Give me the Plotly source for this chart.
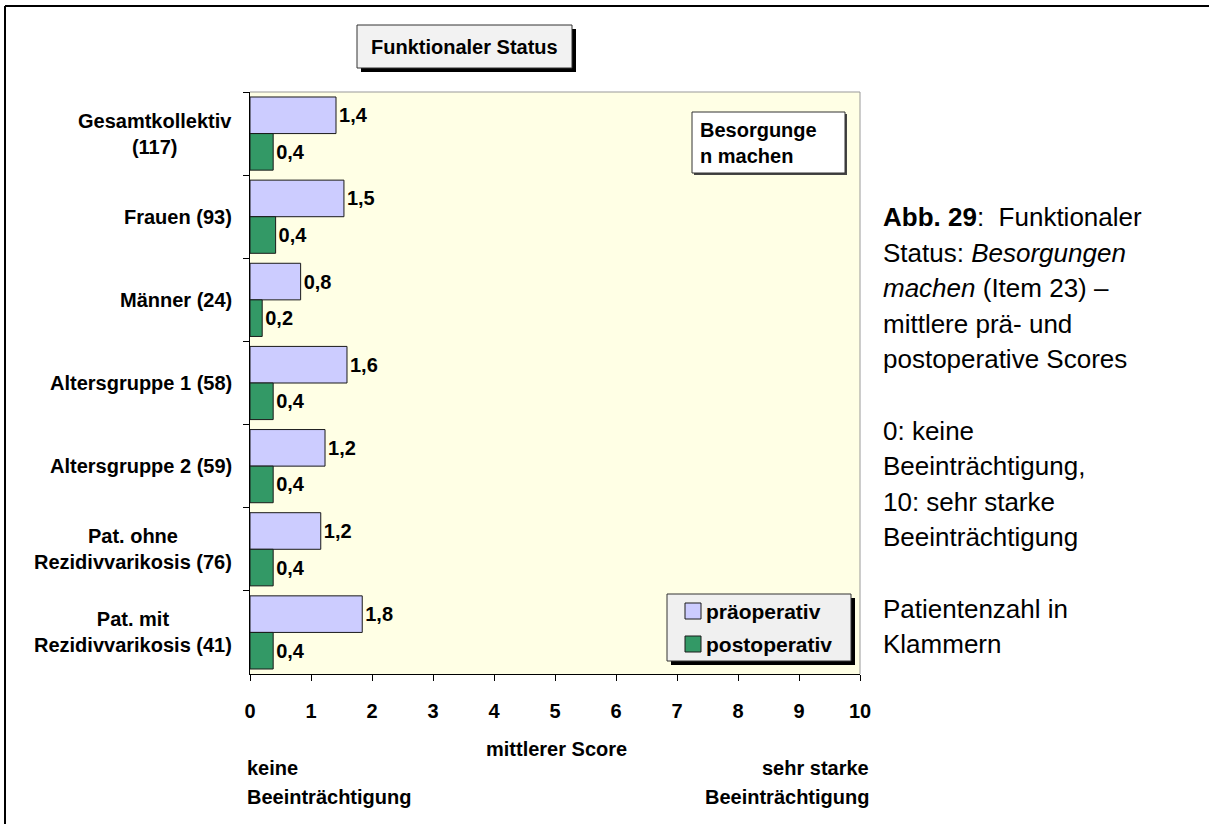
import plotly.graph_objects as go

# ---------------- data ----------------
categories = [
    "Gesamtkollektiv<br>(117)",
    "Frauen (93)",
    "Männer (24)",
    "Altersgruppe 1 (58)",
    "Altersgruppe 2 (59)",
    "Pat. ohne<br>Rezidivvarikosis (76)",
    "Pat. mit<br>Rezidivvarikosis (41)",
]
pre_values = [1.41, 1.54, 0.83, 1.59, 1.23, 1.16, 1.84]
post_values = [0.38, 0.42, 0.20, 0.38, 0.38, 0.38, 0.38]
series_names = ["präoperativ", "postoperativ"]
x_tick_values = list(range(0, 11))
x_tick_labels = [str(v) for v in x_tick_values]

# ---------------- styling ----------------
FONT = "Liberation Sans, Arial, sans-serif"
PRE_COLOR = "#ccccff"
POST_COLOR = "#339966"
PLOT_BG = "#ffffe5"

W, H = 1209, 824
L, R, T, B = 250, 860, 92, 674  # plot area in page pixels


def X(px):
    return (px - L) / (R - L)


def Y(py):
    return (B - py) / (B - T)


def fmt(v):
    return f"{v:.1f}".replace(".", ",")


fig = go.Figure()
for name, vals, col in [(series_names[0], pre_values, PRE_COLOR),
                        (series_names[1], post_values, POST_COLOR)]:
    fig.add_trace(go.Bar(
        y=categories, x=vals, name=name, orientation="h",
        marker=dict(color=col, line=dict(color="#1a1a1a", width=1)),
        text=[fmt(v) for v in vals], textposition="outside",
        textfont=dict(family=FONT, size=20, color="black", weight="bold"),
        constraintext="none", cliponaxis=False, showlegend=False,
    ))

fig.update_layout(
    width=W, height=H,
    margin=dict(l=L, r=W - R, t=T, b=H - B, pad=0),
    paper_bgcolor="white", plot_bgcolor=PLOT_BG,
    barmode="group", bargap=0.12, bargroupgap=0,
    font=dict(family=FONT, color="black"),
    xaxis=dict(range=[0, 10], tickvals=x_tick_values, ticktext=x_tick_labels,
               showgrid=False, zeroline=False, showline=True, linecolor="black",
               linewidth=1, ticks="outside", ticklen=6, tickcolor="black",
               ticklabelstandoff=13,
               tickfont=dict(family=FONT, size=20, color="black", weight="bold")),
    yaxis=dict(type="category", autorange="reversed", showgrid=False,
               zeroline=False, showline=True, linecolor="black", linewidth=1,
               ticks="outside", ticklen=6, tickcolor="black",
               tickson="boundaries", showticklabels=False),
)

shapes = []
ann = []


def rect(x0, y0, x1, y1, fill, line=None):
    shapes.append(dict(type="rect", xref="paper", yref="paper",
                       x0=X(x0), x1=X(x1), y0=Y(y1), y1=Y(y0), fillcolor=fill,
                       line=line if line else dict(width=0), layer="above"))


def text(x, y, t, size=20, bold=True, xanchor="left", align="left"):
    ann.append(dict(xref="paper", yref="paper", x=X(x), y=Y(y), text=t,
                    showarrow=False, xanchor=xanchor, yanchor="middle", align=align,
                    font=dict(family=FONT, size=size, color="black",
                              weight="bold" if bold else "normal")))


# outer frame lines
shapes.append(dict(type="line", xref="paper", yref="paper", x0=X(5), x1=X(1215), y0=Y(6), y1=Y(6),
                   line=dict(color="black", width=2)))
shapes.append(dict(type="line", xref="paper", yref="paper", x0=X(5), x1=X(5), y0=Y(6), y1=Y(830),
                   line=dict(color="black", width=2)))
# plot-area top/right border
shapes.append(dict(type="line", xref="paper", yref="paper", x0=0, x1=1, y0=1, y1=1,
                   line=dict(color="#999999", width=1)))
shapes.append(dict(type="line", xref="paper", yref="paper", x0=1, x1=1, y0=0, y1=1,
                   line=dict(color="#999999", width=1)))

# title box with shadow
rect(361, 29, 576, 72, "black")
rect(357, 25, 572, 68, "#f2f2f2", dict(color="#333333", width=1))
text(464.5, 46.5, "Funktionaler Status", xanchor="center", align="center")

# item box
rect(694, 114, 847, 175, "#444444")
rect(692, 112, 845, 173, "white", dict(color="#333333", width=1))
text(698, 142.5, "Besorgunge<br>n machen")

# legend box (manual)
rect(671, 598, 855, 665, "black")
rect(667, 594, 851, 661, "#f0f0f0", dict(color="#333333", width=1))
for i, (name, col) in enumerate([(series_names[0], PRE_COLOR), (series_names[1], POST_COLOR)]):
    cy = 611 + 33 * i
    rect(685, cy - 8, 701, cy + 8, col, dict(color="#1a1a1a", width=1))
    text(704, cy, name, size=21)

# category labels
for c in categories:
    ann.append(dict(xref="paper", yref="y", x=X(234), y=c, text=c, showarrow=False,
                    xanchor="right", yanchor="middle", align="center",
                    font=dict(family=FONT, size=20, color="black", weight="bold")))

# axis captions
text(556, 749, "mittlerer Score", xanchor="center", align="center")
text(245, 768, "keine")
text(245, 797, "Beeinträchtigung")
text(871, 768, "sehr starke", xanchor="right", align="right")
text(871, 797, "Beeinträchtigung", xanchor="right", align="right")

# figure caption on the right (None = empty line)
caption_lines = [
    "<b>Abb. 29</b>:  Funktionaler",
    "Status: <i>Besorgungen</i>",
    "<i>machen</i> (Item 23) –",
    "mittlere prä- und",
    "postoperative Scores",
    None,
    "0: keine",
    "Beeinträchtigung,",
    "10: sehr starke",
    "Beeinträchtigung",
    None,
    "Patientenzahl in",
    "Klammern",
]
for k, txt in enumerate(caption_lines):
    if txt is None:
        continue
    text(881, 217 + 35.6 * k, txt, size=26, bold=False)

fig.update_layout(shapes=shapes, annotations=ann)
fig.write_html("out.html", config={"displayModeBar": False},
               post_script="document.body.style.margin='0';document.body.style.overflow='hidden';")
